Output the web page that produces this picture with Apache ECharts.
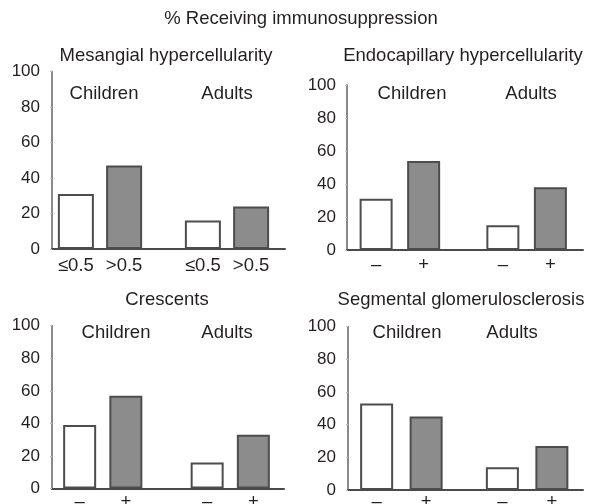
<!DOCTYPE html>
<html>
<head>
<meta charset="utf-8">
<script src="https://cdn.jsdelivr.net/npm/echarts@6/dist/echarts.min.js"></script>
<style>
html,body{margin:0;padding:0;background:#fff;}
#chart{width:590px;height:504px;}
</style>
</head>
<body>
<div id="chart"></div>
<script>
// ---- data ----
const mainTitle = '% Receiving immunosuppression';
const panelTitles = ['Mesangial hypercellularity', 'Endocapillary hypercellularity', 'Crescents', 'Segmental glomerulosclerosis'];
const groups = ['Children', 'Adults'];
const lowLabels = ['≤0.5', '–', '–', '–'];
const highLabels = ['>0.5', '+', '+', '+'];
const yTicks = [0, 20, 40, 60, 80, 100];
// values per panel: [Children, Adults]
const mesangialLow = [31, 16];
const mesangialHigh = [47, 24];
const endocapillaryLow = [31, 15];
const endocapillaryHigh = [54, 38];
const crescentsLow = [39, 16];
const crescentsHigh = [57, 33];
const segmentalLow = [53, 14];
const segmentalHigh = [45, 27];
const lowValues = [mesangialLow, endocapillaryLow, crescentsLow, segmentalLow];
const highValues = [mesangialHigh, endocapillaryHigh, crescentsHigh, segmentalHigh];

// ---- layout (pixels) ----
const FONT = '"Liberation Sans", Arial, Helvetica, sans-serif';
const TXT = '#231f20';
const TFS = 18.5; // text font size
const NFS = 17;   // tick number font size
const layout = [
  {barL: 36.5, barW: 254, axL: 52, axR: 285, top: 71.5, base: 249, bw: 36, gap: '34%', lm: 12, lo: 17, tx: 166, ty: 56, cx: 104, ax: 227, gy: 94},
  {barL: 336.5, barW: 258, axL: 347, axR: 583, top: 85, base: 250, bw: 33, gap: '44%', lm: 11, lo: 15, tx: 463, ty: 56, cx: 412, ax: 531, gy: 93.5},
  {barL: 39, barW: 255, axL: 52, axR: 284, top: 325.7, base: 488.5, bw: 33, gap: '40%', lm: 12, lo: 13, tx: 167, ty: 300, cx: 116, ax: 227, gy: 333},
  {barL: 338.5, barW: 262, axL: 348, axR: 583, top: 326.7, base: 490, bw: 33, gap: '50%', lm: 12, lo: 12, tx: 461, ty: 300, cx: 407, ax: 512, gy: 333}
];

const grid = [], xAxis = [], yAxis = [], series = [], graphic = [];

const txt = (x, y, s) => ({type: 'text', x: x, y: y, silent: true,
  style: {text: s, font: TFS + 'px ' + FONT, fill: TXT, textAlign: 'center', textVerticalAlign: 'middle'}});

graphic.push(txt(301, 19, mainTitle));

layout.forEach((L, i) => {
  const h = L.base - L.top;
  // bar grid
  grid.push({left: L.barL, top: L.top, width: L.barW, height: h, containLabel: false});
  // axis frame grid
  grid.push({left: L.axL, top: L.top, width: L.axR - L.axL, height: h, containLabel: false});
  const gBar = 2 * i, gAx = 2 * i + 1;
  xAxis.push({gridIndex: gBar, type: 'category', data: groups, show: false});
  yAxis.push({gridIndex: gBar, type: 'value', min: 0, max: 100, interval: 20, show: false});
  xAxis.push({gridIndex: gAx, type: 'value', min: 0, max: 1, axisLine: {show: true, onZero: false, lineStyle: {color: '#4a4a4a', width: 2}}, axisTick: {show: false}, axisLabel: {show: false}, splitLine: {show: false}});
  yAxis.push({gridIndex: gAx, type: 'value', min: yTicks[0], max: yTicks[yTicks.length - 1], interval: 20,
    axisLine: {show: true, lineStyle: {color: '#8a8a8a', width: 2}},
    axisTick: {show: true, length: 2, lineStyle: {color: '#c8c8c8'}},
    axisLabel: {show: true, margin: L.lm, color: TXT, fontSize: NFS, fontFamily: FONT},
    splitLine: {show: false}});
  const mk = (name, vals, fill) => ({
    type: 'bar', name: name, xAxisIndex: gBar, yAxisIndex: gBar, data: vals,
    barWidth: L.bw, barGap: L.gap, z: 1,
    itemStyle: {color: fill, borderColor: '#4d4d4d', borderWidth: 2},
    label: {show: true, position: ['50%', '100%'], align: 'center', verticalAlign: 'middle', offset: [0, L.lo],
      formatter: name, color: TXT, fontSize: TFS, fontFamily: FONT},
    silent: true, animation: false
  });
  series.push(mk(lowLabels[i], lowValues[i], '#ffffff'));
  series.push(mk(highLabels[i], highValues[i], '#8c8c8c'));
  graphic.push(txt(L.tx, L.ty, panelTitles[i]));
  graphic.push(txt(L.cx, L.gy, groups[0]));
  graphic.push(txt(L.ax, L.gy, groups[1]));
});

const chart = echarts.init(document.getElementById('chart'), null, {renderer: 'canvas'});
chart.setOption({
  backgroundColor: '#ffffff',
  animation: false,
  grid: grid, xAxis: xAxis, yAxis: yAxis, series: series, graphic: graphic,
  tooltip: {show: false}, legend: {show: false}
});
</script>
</body>
</html>
